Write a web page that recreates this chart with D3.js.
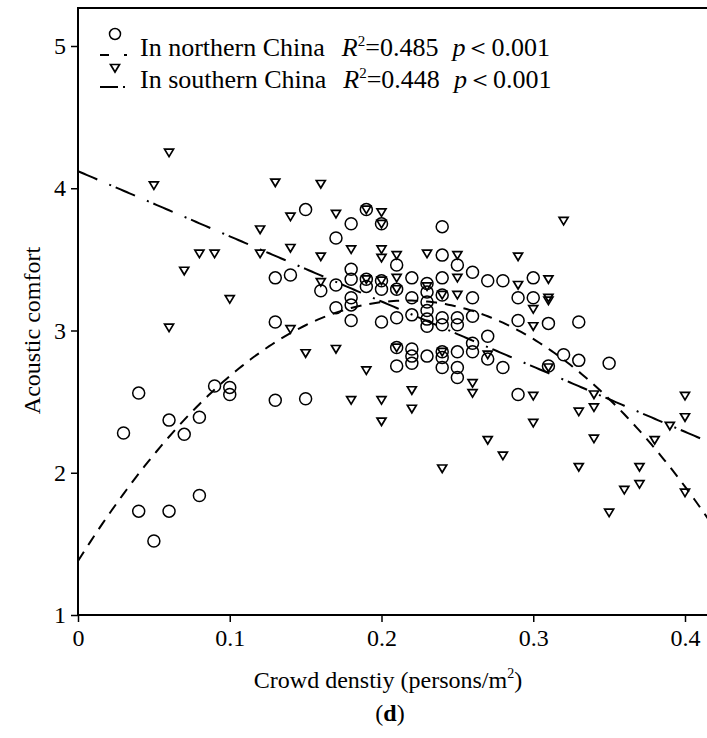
<!DOCTYPE html>
<html lang="en">
<head>
<meta charset="UTF-8">
<title>Acoustic comfort vs crowd density</title>
<style>
  body { margin: 0; background: #fff; }
  svg text { font-family: "Liberation Serif", "Times New Roman", serif; fill: #000; }
</style>
</head>
<body>
<svg width="707" height="738"></svg>
<script src="https://cdn.jsdelivr.net/npm/d3@7"></script>
<script>
  var xTicks = [0, 0.1, 0.2, 0.3, 0.4]
  var yTicks = [1, 2, 3, 4, 5]

  // northern China (circles)
  var north = [
    [0.03, 2.28], [0.04, 2.56], [0.04, 1.73], [0.05, 1.52], [0.06, 2.37], [0.06, 1.73],
    [0.07, 2.27], [0.08, 2.39], [0.08, 1.84], [0.09, 2.61], [0.10, 2.60], [0.10, 2.55],
    [0.13, 3.37], [0.13, 3.06], [0.13, 2.51], [0.14, 3.39], [0.15, 3.85], [0.15, 2.52],
    [0.16, 3.28], [0.17, 3.65], [0.17, 3.32], [0.17, 3.16],
    [0.18, 3.75], [0.18, 3.43], [0.18, 3.36], [0.18, 3.23], [0.18, 3.18], [0.18, 3.07],
    [0.19, 3.85], [0.19, 3.36], [0.19, 3.31],
    [0.20, 3.75], [0.20, 3.35], [0.20, 3.29], [0.20, 3.06],
    [0.21, 3.46], [0.21, 3.29], [0.21, 3.09], [0.21, 2.88], [0.21, 2.75],
    [0.22, 3.37], [0.22, 3.23], [0.22, 3.11], [0.22, 2.87], [0.22, 2.82], [0.22, 2.77],
    [0.23, 3.33], [0.23, 3.27], [0.23, 3.20], [0.23, 3.14], [0.23, 3.08], [0.23, 3.03], [0.23, 2.82],
    [0.24, 3.73], [0.24, 3.53], [0.24, 3.37], [0.24, 3.25], [0.24, 3.09], [0.24, 3.04],
    [0.24, 2.85], [0.24, 2.81], [0.24, 2.74],
    [0.25, 3.46], [0.25, 3.09], [0.25, 3.04], [0.25, 2.85], [0.25, 2.74], [0.25, 2.67],
    [0.26, 3.41], [0.26, 3.23], [0.26, 3.10], [0.26, 2.91], [0.26, 2.85],
    [0.27, 3.35], [0.27, 2.96], [0.27, 2.80],
    [0.28, 3.35], [0.28, 2.74],
    [0.29, 3.23], [0.29, 3.07], [0.29, 2.55],
    [0.30, 3.37], [0.30, 3.23],
    [0.31, 3.05], [0.31, 2.75], [0.32, 2.83],
    [0.33, 3.06], [0.33, 2.79], [0.35, 2.77]
  ]

  // southern China (triangles)
  var south = [
    [0.05, 4.02], [0.06, 4.25], [0.06, 3.02], [0.07, 3.42], [0.08, 3.54], [0.09, 3.54], [0.10, 3.22],
    [0.12, 3.71], [0.12, 3.54], [0.13, 4.04], [0.14, 3.80], [0.14, 3.58], [0.14, 3.01], [0.15, 2.84],
    [0.16, 4.03], [0.16, 3.52], [0.16, 3.34], [0.17, 3.82], [0.17, 2.87],
    [0.18, 3.57], [0.18, 2.51], [0.19, 3.85], [0.19, 3.36], [0.19, 2.72],
    [0.20, 3.83], [0.20, 3.75], [0.20, 3.57], [0.20, 3.51], [0.20, 3.35], [0.20, 2.51], [0.20, 2.36],
    [0.21, 3.53], [0.21, 3.37], [0.21, 3.29], [0.21, 2.88],
    [0.22, 2.58], [0.22, 2.45], [0.23, 3.54], [0.23, 3.31],
    [0.24, 3.25], [0.24, 2.85], [0.24, 2.03],
    [0.25, 3.53], [0.25, 3.37], [0.25, 3.25],
    [0.26, 2.63], [0.26, 2.56], [0.27, 2.83], [0.27, 2.23], [0.28, 2.12],
    [0.29, 3.52], [0.29, 3.32],
    [0.30, 3.15], [0.30, 3.03], [0.30, 2.54], [0.30, 2.35],
    [0.31, 3.36], [0.31, 3.23], [0.31, 3.21], [0.31, 2.74], [0.32, 3.77],
    [0.33, 2.43], [0.33, 2.04], [0.34, 2.55], [0.34, 2.46], [0.34, 2.24],
    [0.35, 1.72], [0.36, 1.88], [0.37, 2.04], [0.37, 1.92], [0.38, 2.23], [0.39, 2.33],
    [0.40, 2.54], [0.40, 2.39], [0.40, 1.86]
  ]

  // fitted curves y = a + b*x + c*x^2
  var northFit = [1.38, 16.89, -38.96]
  var southFit = [4.12, -4.58, 0]

  var legendNames = ['In northern China', 'In southern China']
  var legendR2 = ['0.485', '0.448']
  var legendP = ['0.001', '0.001']

  var svg = d3.select('svg')
  var x = d3.scaleLinear().domain([0, 0.4]).range([78, 685])
  var y = d3.scaleLinear().domain([1, 5]).range([615, 46])
  var xMax = x.invert(707), yMax = y.invert(8)

  svg.append('clipPath').attr('id', 'plot')
    .append('rect')
    .attr('x', x(0)).attr('y', y(yMax))
    .attr('width', x(xMax) - x(0)).attr('height', y(1) - y(yMax))

  // frame
  svg.append('path')
    .attr('d', `M${x(xMax)},${y(yMax)}H${x(0)}V${y(1)}H${x(xMax)}`)
    .attr('fill', 'none').attr('stroke', '#000').attr('stroke-width', 2)

  var xAxis = d3.axisBottom(x).tickValues(xTicks).tickSize(7).tickPadding(7)
    .tickFormat(d => d === 0 ? '0' : d3.format('.1f')(d))
  var yAxis = d3.axisLeft(y).tickValues(yTicks).tickSize(7).tickPadding(5)
    .tickFormat(d3.format('d'))

  var gx = svg.append('g').attr('transform', `translate(0,${y(1)})`).call(xAxis)
  var gy = svg.append('g').attr('transform', `translate(${x(0)},0)`).call(yAxis)
  ;[gx, gy].forEach(g => {
    g.select('.domain').remove()
    g.selectAll('line').attr('stroke', '#000').attr('stroke-width', 1.5)
    g.selectAll('text').attr('font-size', 24).attr('fill', '#000')
      .style('font-family', '"Liberation Serif", serif')
  })

  var plot = svg.append('g').attr('clip-path', 'url(#plot)')

  var tri = 'M-4.5,-3.5L4.5,-3.5L0,4Z'

  plot.append('g').selectAll('circle')
    .data(north).enter().append('circle')
    .attr('cx', d => x(d[0])).attr('cy', d => y(d[1])).attr('r', 6)
    .attr('fill', 'none').attr('stroke', '#000').attr('stroke-width', 1.5)

  plot.append('g').selectAll('path')
    .data(south).enter().append('path')
    .attr('d', tri)
    .attr('transform', d => `translate(${x(d[0])},${y(d[1])})`)
    .attr('fill', 'none').attr('stroke', '#000').attr('stroke-width', 1.7)

  function fitLine(c) {
    var xs = d3.range(0, xMax + 0.002, 0.002)
    return d3.line().x(v => x(v)).y(v => y(c[0] + c[1] * v + c[2] * v * v))(xs)
  }

  plot.append('path').attr('d', fitLine(northFit))
    .attr('fill', 'none').attr('stroke', '#000').attr('stroke-width', 2)
    .attr('stroke-dasharray', '11,8')
  plot.append('path').attr('d', fitLine(southFit))
    .attr('fill', 'none').attr('stroke', '#000').attr('stroke-width', 2)
    .attr('stroke-dasharray', '21,13,2,5')

  // legend
  var leg = svg.append('g')
  leg.append('circle').attr('cx', 115).attr('cy', 34).attr('r', 5.5)
    .attr('fill', 'none').attr('stroke', '#000').attr('stroke-width', 1.5)
  leg.append('path').attr('d', 'M100,55H131')
    .attr('stroke', '#000').attr('stroke-width', 2).attr('stroke-dasharray', '9,15,3')
  leg.append('path').attr('d', tri).attr('transform', 'translate(115,68)')
    .attr('fill', 'none').attr('stroke', '#000').attr('stroke-width', 1.7)
  leg.append('path').attr('d', 'M100,87H126')
    .attr('stroke', '#000').attr('stroke-width', 2).attr('stroke-dasharray', '18,5,2')

  legendNames.forEach((name, i) => {
    var t = leg.append('text').attr('x', 140).attr('y', 56 + i * 32).attr('font-size', 26)
    t.append('tspan').text(name)
    t.append('tspan').attr('dx', 17).attr('font-style', 'italic').text('R')
    t.append('tspan').attr('font-size', 15).attr('dy', -10).text('2')
    t.append('tspan').attr('dy', 10).text('=' + legendR2[i])
    t.append('tspan').attr('dx', 14).attr('font-style', 'italic').text('p')
    t.append('tspan').text('＜' + legendP[i])
  })

  // axis titles
  svg.append('text')
    .attr('transform', `translate(40,${y(3)}) rotate(-90)`)
    .attr('text-anchor', 'middle').attr('font-size', 24).text('Acoustic comfort')

  var xt = svg.append('text').attr('x', 388).attr('y', 688)
    .attr('text-anchor', 'middle').attr('font-size', 24)
  xt.append('tspan').text('Crowd denstiy (persons/m')
  xt.append('tspan').attr('font-size', 14).attr('dy', -10).text('2')
  xt.append('tspan').attr('dy', 10).text(')')

  var cap = svg.append('text').attr('x', 390).attr('y', 721)
    .attr('text-anchor', 'middle').attr('font-size', 24)
  cap.append('tspan').text('(')
  cap.append('tspan').attr('font-weight', 'bold').text('d')
  cap.append('tspan').text(')')
</script>
</body>
</html>
